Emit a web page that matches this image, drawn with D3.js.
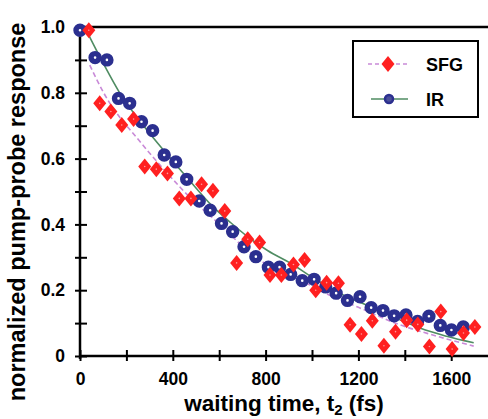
<!DOCTYPE html>
<html lang="en">
<head>
<meta charset="UTF-8">
<title>Pump-probe response</title>
<script src="https://d3js.org/d3.v7.min.js"></script>
<style>
    body { margin: 0; background: #fff; }
    svg { display: block; font-family: "Liberation Sans", Arial, sans-serif; font-weight: bold; }
</style>
</head>
<body>
<svg id="chart" width="488" height="419"></svg>
<script>
// IR data (blue circles)
var irTime  = [0, 65, 116, 166, 214, 265, 313, 363, 413, 460, 514, 561, 610, 658, 707, 758, 812, 860, 908, 958, 1009, 1059, 1104, 1153, 1207, 1255, 1306, 1354, 1405, 1455, 1504, 1553, 1601, 1652];
var irValue = [0.99, 0.907, 0.90, 0.783, 0.768, 0.712, 0.685, 0.611, 0.59, 0.537, 0.471, 0.443, 0.403, 0.378, 0.332, 0.302, 0.27, 0.27, 0.248, 0.229, 0.233, 0.21, 0.191, 0.169, 0.18, 0.147, 0.138, 0.122, 0.125, 0.105, 0.121, 0.093, 0.079, 0.088];

// SFG data (red diamonds)
var sfgTime  = [38, 85, 133, 180, 231, 279, 329, 377, 428, 478, 524, 573, 624, 675, 723, 774, 819, 868, 920, 968, 1016, 1063, 1114, 1164, 1213, 1260, 1310, 1360, 1408, 1456, 1506, 1555, 1604, 1653, 1702];
var sfgValue = [0.99, 0.768, 0.743, 0.702, 0.72, 0.576, 0.568, 0.555, 0.479, 0.479, 0.522, 0.502, 0.441, 0.283, 0.355, 0.345, 0.246, 0.246, 0.278, 0.292, 0.20, 0.223, 0.221, 0.095, 0.067, 0.107, 0.031, 0.074, 0.109, 0.096, 0.029, 0.135, 0.021, 0.07, 0.088];

// fitted curves
var irFitTime  = [20, 100, 171, 274, 367, 464, 564, 650, 722, 810, 908, 1000, 1100, 1167, 1253, 1382, 1468, 1580, 1697];
var irFitValue = [1.0, 0.89, 0.80, 0.70, 0.62, 0.54, 0.46, 0.405, 0.363, 0.32, 0.282, 0.24, 0.198, 0.175, 0.15, 0.109, 0.084, 0.06, 0.04];
var sfgFitTime  = [42, 102, 263, 377, 478, 610, 707, 851, 951, 1023, 1200, 1382, 1500, 1697];
var sfgFitValue = [0.884, 0.80, 0.648, 0.555, 0.479, 0.395, 0.33, 0.259, 0.231, 0.203, 0.148, 0.094, 0.068, 0.03];

var xTicks = d3.range(0, 1800, 200);
var yTicks = d3.range(0, 11).map(function(i) { return i / 10; });

var svg = d3.select("#chart");
var x = d3.scaleLinear().domain([0, 1750]).range([80, 486]);
var y = d3.scaleLinear().domain([0, 1]).range([356, 27]);

var navy = "#2b2f8f", red = "#ff2020", green = "#4f8c62", orchid = "#c98ad8";

// top frame line
svg.append("line").attr("x1", x(0)).attr("x2", 488).attr("y1", y(1)).attr("y2", y(1))
    .attr("stroke", "#000").attr("stroke-width", 2.5);

// x axis
var gx = svg.append("g").attr("transform", "translate(0," + y(0) + ")")
    .call(d3.axisBottom(x).tickValues(xTicks).tickSize(0).tickPadding(17)
        .tickFormat(function(d) { return d % 400 === 0 ? d : ""; }));
gx.select(".domain").remove();
gx.selectAll(".tick line").attr("y1", -6).attr("y2", 5).attr("stroke", "#000").attr("stroke-width", 2);
gx.selectAll(".tick text").attr("font-size", 17.5).attr("font-family", null).attr("fill", "#000");
gx.append("line").attr("x1", x(0) - 1).attr("x2", 488).attr("stroke", "#000").attr("stroke-width", 2.5);

// y axis
var gy = svg.append("g").attr("transform", "translate(" + x(0) + ",0)")
    .call(d3.axisLeft(y).tickValues(yTicks).tickSize(0).tickPadding(15)
        .tickFormat(function(d) {
            var k = Math.round(d * 10);
            if (k % 2) return "";
            return k === 0 ? "0" : d3.format(".1f")(d);
        }));
gy.select(".domain").remove();
gy.selectAll(".tick line").attr("x1", -5).attr("x2", 7).attr("stroke", "#000").attr("stroke-width", 2);
gy.selectAll(".tick text").attr("font-size", 17.5).attr("font-family", null).attr("fill", "#000");
gy.append("line").attr("y1", y(0) + 3).attr("y2", y(1) - 1).attr("stroke", "#000").attr("stroke-width", 2.5);

// axis titles
var xt = svg.append("text").attr("x", 284).attr("y", 411).attr("text-anchor", "middle").attr("font-size", 22.5);
xt.append("tspan").text("waiting time, t");
xt.append("tspan").attr("font-size", 15).attr("dy", 4).text("2");
xt.append("tspan").attr("dy", -4).text(" (fs)");

svg.append("text").attr("transform", "translate(25,212) rotate(-90)")
    .attr("text-anchor", "middle").attr("font-size", 23.5).text("normalized pump-probe response");

// fit lines
var line = d3.line().curve(d3.curveMonotoneX)
    .x(function(d) { return x(d[0]); }).y(function(d) { return y(d[1]); });
svg.append("path").datum(d3.zip(sfgFitTime, sfgFitValue)).attr("d", line)
    .attr("fill", "none").attr("stroke", orchid).attr("stroke-width", 1.6).attr("stroke-dasharray", "5,3");
svg.append("path").datum(d3.zip(irFitTime, irFitValue)).attr("d", line)
    .attr("fill", "none").attr("stroke", green).attr("stroke-width", 1.6);

// diamond marker
var diamond = { draw: function(ctx) {
    ctx.moveTo(0, -8); ctx.lineTo(6.5, 0); ctx.lineTo(0, 8); ctx.lineTo(-6.5, 0); ctx.closePath();
} };

// IR points
svg.append("g").selectAll("circle").data(d3.zip(irTime, irValue)).join("circle")
    .attr("cx", function(d) { return x(d[0]); }).attr("cy", function(d) { return y(d[1]); })
    .attr("r", 4).attr("fill", "#fff").attr("stroke", navy).attr("stroke-width", 5.4);

// SFG points
var sfg = svg.append("g").selectAll("g").data(d3.zip(sfgTime, sfgValue)).join("g")
    .attr("transform", function(d) { return "translate(" + x(d[0]) + "," + y(d[1]) + ")"; });
sfg.append("path").attr("d", d3.symbol().type(diamond)()).attr("fill", red);
sfg.append("circle").attr("r", 0.8).attr("fill", "#ff9a9a");

// legend
var lg = svg.append("g");
lg.append("rect").attr("x", 353).attr("y", 41).attr("width", 125).attr("height", 76)
    .attr("fill", "#fff").attr("stroke", "#000").attr("stroke-width", 2);
lg.append("line").attr("x1", 368).attr("x2", 408).attr("y1", 64).attr("y2", 64)
    .attr("stroke", orchid).attr("stroke-width", 1.6).attr("stroke-dasharray", "4,3");
lg.append("path").attr("transform", "translate(388,64)").attr("d", d3.symbol().type(diamond)()).attr("fill", red);
lg.append("line").attr("x1", 371).attr("x2", 408).attr("y1", 99).attr("y2", 99)
    .attr("stroke", green).attr("stroke-width", 1.6);
lg.append("circle").attr("cx", 389).attr("cy", 99).attr("r", 4).attr("fill", "#4a4f9a")
    .attr("stroke", navy).attr("stroke-width", 2.5);
lg.append("text").attr("x", 426).attr("y", 71).attr("font-size", 18).text("SFG");
lg.append("text").attr("x", 426).attr("y", 106).attr("font-size", 18).text("IR");
</script>
</body>
</html>
